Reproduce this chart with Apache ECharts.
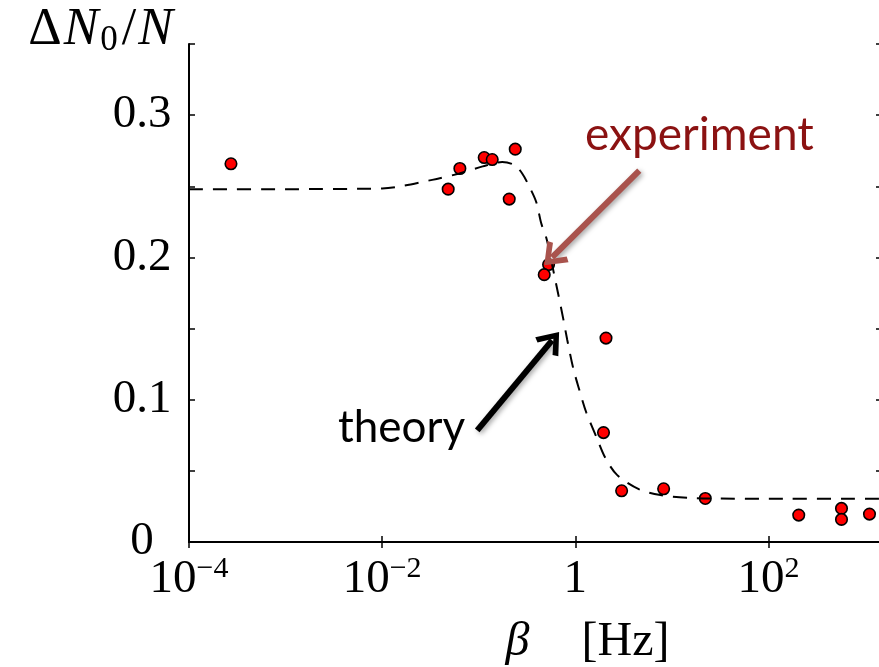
<!DOCTYPE html>
<html>
<head>
<meta charset="utf-8">
<script src="https://cdn.jsdelivr.net/npm/echarts@6/dist/echarts.min.js"></script>
<style>
html,body{margin:0;padding:0;background:#fff;}
#c{width:879px;height:667px;}
</style>
</head>
<body>
<div id="c"></div>
<script>
// experimental points (beta in Hz, ΔN0/N)
var expX = [2.72e-4, 0.0483, 0.0638, 0.114, 0.138, 0.239, 0.207, 0.529, 0.477, 2.08, 1.96, 3.02, 8.22, 22.2, 206, 571, 571, 1113];
var expY = [0.2658, 0.2480, 0.2625, 0.2702, 0.2688, 0.2761, 0.2410, 0.1950, 0.1879, 0.1433, 0.0769, 0.0360, 0.0374, 0.0306, 0.0189, 0.0236, 0.0159, 0.0196];
// theory curve (dashed)
var theoryX = [1e-4, 1e-3, 0.01, 0.033, 0.063, 0.11, 0.175, 0.233, 0.282, 0.333, 0.394, 0.444, 0.50, 0.537, 0.60, 0.667, 0.75, 0.826, 0.953, 1.10, 1.30, 1.65, 2.05, 2.72, 4.6, 7.6, 15.1, 31, 100, 1500];
var theoryY = [0.248, 0.248, 0.2485, 0.2545, 0.259, 0.264, 0.267, 0.265, 0.259, 0.250, 0.239, 0.224, 0.214, 0.205, 0.189, 0.174, 0.157, 0.142, 0.122, 0.107, 0.091, 0.074, 0.059, 0.047, 0.037, 0.033, 0.031, 0.0305, 0.0304, 0.0304];
// axis settings
var xMin = 1e-4, xMax = 1500;
var yMin = 0, yMax = 0.35, yStep = 0.05;
// annotation arrows [start, end] in data coords
var expArrow = [[4.6, 0.261], [0.575, 0.200]];
var theoArrow = [[0.0965, 0.0785], [0.575, 0.1417]];

var serif = '"Liberation Serif", "DejaVu Serif", serif';
var sans = 'Lato, "Open Sans", "Noto Sans", sans-serif';

function xFmt(v) {
  var e = Math.round(Math.log10(v));
  if (Math.abs(Math.log10(v) - e) > 1e-6) return '';
  if (e === 0) return '{n|1}';
  return '{n|10}{s|' + (e < 0 ? '\u2212' + (-e) : e) + '}';
}
function yFmt(v) {
  var k = Math.round(v * 100);
  if (k % 10 !== 0) return '';
  return k === 0 ? '0' : (k / 100).toFixed(1);
}

var chevron = 'path://M0,14 L10,0 L20,14 L16.5,16 L10,6.5 L3.5,16 Z';

var chart = echarts.init(document.getElementById('c'), null, {renderer: 'canvas'});
var expData = expX.map(function (x, i) { return [x, expY[i]]; });
var theoData = theoryX.map(function (x, i) { return [x, theoryY[i]]; });

chart.setOption({
  animation: false,
  backgroundColor: '#fff',
  grid: {left: 189, top: 44, width: 693, height: 498, containLabel: false, outerBoundsMode: 'none'},
  xAxis: [{
    type: 'log', logBase: 100, min: xMin, max: xMax, position: 'bottom',
    axisLine: {show: true, lineStyle: {color: '#000', width: 2}},
    axisTick: {show: true, inside: true, length: 6, lineStyle: {color: '#000', width: 1.5}},
    splitLine: {show: false},
    axisLabel: {
      formatter: xFmt, margin: 12, color: '#000',
      rich: {
        n: {fontFamily: serif, fontSize: 47, color: '#000', lineHeight: 52},
        s: {fontFamily: serif, fontSize: 30, color: '#000', verticalAlign: 'top', lineHeight: 52, padding: [0, 0, 20, 0]}
      }
    },
    name: '{b|\u03b2}{g|}{h|[Hz]}',
    nameLocation: 'middle', nameGap: 76,
    nameTextStyle: {
      padding: [0, 0, 0, 104],
      rich: {
        b: {fontFamily: serif, fontStyle: 'italic', fontSize: 48, color: '#000'},
        g: {width: 52},
        h: {fontFamily: serif, fontSize: 48, color: '#000'}
      }
    }
  }, {
    type: 'log', logBase: 100, min: xMin, max: xMax, position: 'top',
    axisLine: {show: true, lineStyle: {color: '#000', width: 2}},
    axisTick: {show: true, inside: true, length: 6, lineStyle: {color: '#000', width: 1.5}},
    axisLabel: {show: false}, splitLine: {show: false}
  }],
  yAxis: [{
    type: 'value', min: yMin, max: yMax, interval: yStep, position: 'left',
    axisLine: {show: true, lineStyle: {color: '#000', width: 2}},
    axisTick: {show: true, inside: true, length: 6, lineStyle: {color: '#000', width: 1.5}},
    splitLine: {show: false},
    axisLabel: {formatter: yFmt, align: 'center', margin: 47, color: '#000', fontFamily: serif, fontSize: 47},
    name: '{d|\u0394}{i|N}{sub|0}{d|/}{i|N}',
    nameLocation: 'end', nameGap: -14,
    nameTextStyle: {
      align: 'right', verticalAlign: 'bottom', padding: [0, 14, 0, 0],
      rich: {
        d: {fontFamily: serif, fontSize: 52, color: '#000', lineHeight: 56, padding: [0, 2, 0, 2]},
        i: {fontFamily: serif, fontStyle: 'italic', fontSize: 52, color: '#000', lineHeight: 56, padding: [0, 2, 0, 0]},
        sub: {fontFamily: serif, fontSize: 35, color: '#000', verticalAlign: 'bottom', lineHeight: 26, padding: [0, 2, 0, 0]}
      }
    }
  }, {
    type: 'value', min: yMin, max: yMax, interval: yStep, position: 'right',
    axisLine: {show: true, lineStyle: {color: '#000', width: 2}},
    axisTick: {show: true, inside: true, length: 6, lineStyle: {color: '#000', width: 1.5}},
    axisLabel: {show: false}, splitLine: {show: false}
  }],
  series: [{
    name: 'experiment', type: 'scatter', xAxisIndex: 0, yAxisIndex: 0,
    data: expData, symbol: 'circle', symbolSize: 11.5, z: 2,
    itemStyle: {color: '#ff0000', borderColor: '#000', borderWidth: 1.6, opacity: 1}
  }, {
    name: 'theory', type: 'line', xAxisIndex: 0, yAxisIndex: 0,
    data: theoData, smooth: 0.3, showSymbol: false, symbol: 'none', z: 3,
    lineStyle: {color: '#000', width: 2, type: [14, 10]},
    markLine: {
      silent: true, animation: false, z: 4,
      label: {show: false},
      data: [
        [{coord: expArrow[0], symbol: 'none',
          lineStyle: {color: '#a9534d', width: 6, type: 'solid', shadowBlur: 5, shadowColor: 'rgba(0,0,0,0.35)', shadowOffsetX: 2, shadowOffsetY: 2}},
         {coord: expArrow[1], symbol: chevron, symbolSize: [30, 22], itemStyle: {color: '#a9534d'}}],
        [{coord: theoArrow[0], symbol: 'none',
          lineStyle: {color: '#000', width: 6, type: 'solid', shadowBlur: 5, shadowColor: 'rgba(0,0,0,0.35)', shadowOffsetX: 2, shadowOffsetY: 2}},
         {coord: theoArrow[1], symbol: chevron, symbolSize: [30, 22], itemStyle: {color: '#000'}}]
      ]
    }
  }],
  graphic: [
    {type: 'text', left: 585, top: 112, z: 10,
     style: {text: 'experiment', fontFamily: sans, fontSize: 46, fill: '#8b1212'}},
    {type: 'text', left: 338, top: 406, z: 10,
     style: {text: 'theory', fontFamily: sans, fontSize: 44, fill: '#000'}}
  ]
});
</script>
</body>
</html>
